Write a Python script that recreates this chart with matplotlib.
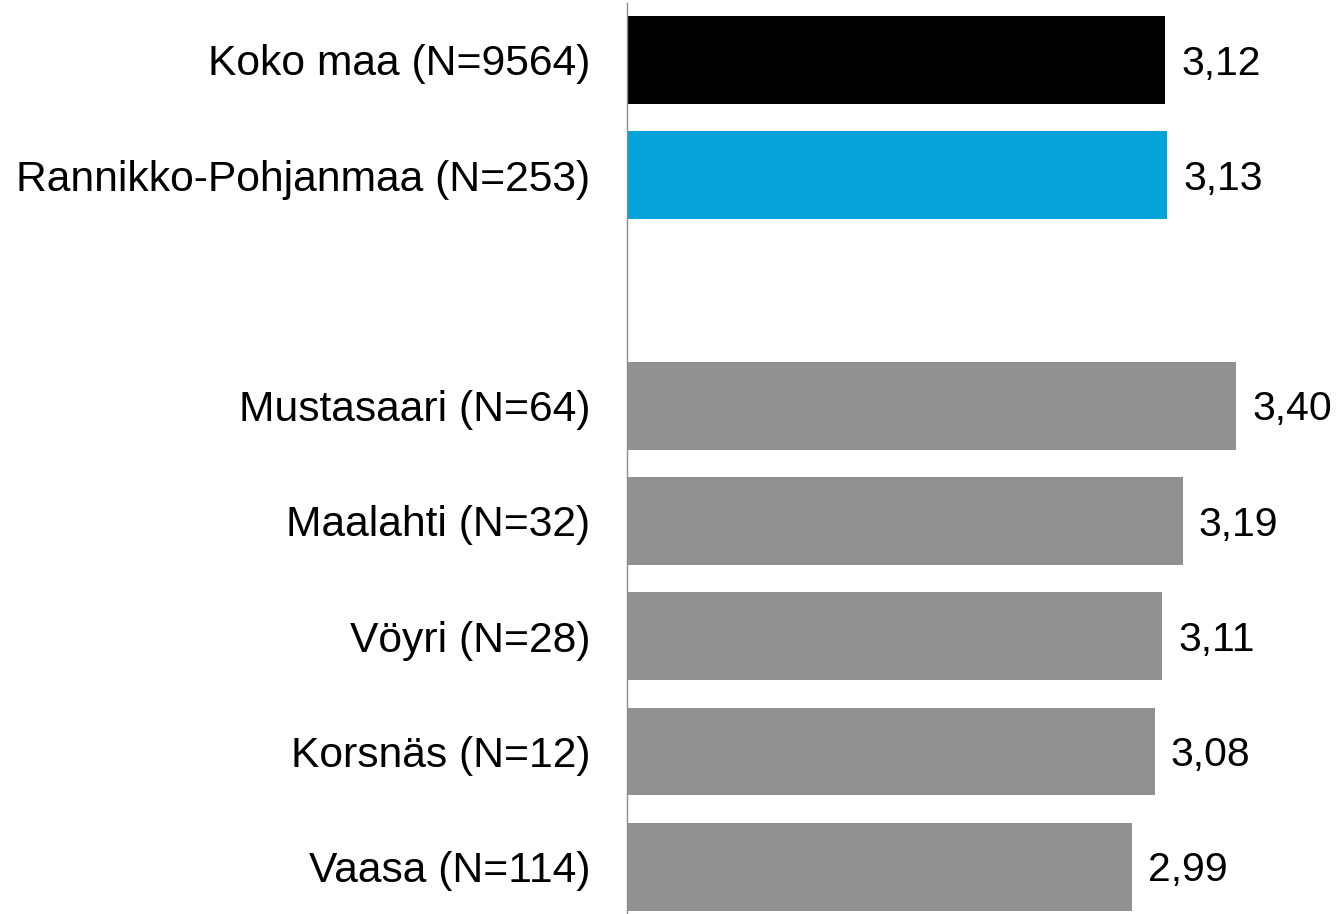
import matplotlib
matplotlib.use("Agg")
import matplotlib.pyplot as plt

categories = ["Koko maa (N=9564)", "Rannikko-Pohjanmaa (N=253)", "",
              "Mustasaari (N=64)", "Maalahti (N=32)", "Vöyri (N=28)",
              "Korsnäs (N=12)", "Vaasa (N=114)"]
values = [3.12, 3.13, None, 3.40, 3.19, 3.11, 3.08, 2.99]
colors = ["#000000", "#03A3DA", None, "#919191", "#919191", "#919191", "#919191", "#919191"]
value_labels = ["3,12", "3,13", "", "3,40", "3,19", "3,11", "3,08", "2,99"]

plt.rcParams['font.family'] = ['Liberation Sans', 'DejaVu Sans']

W, H = 1340, 914
fig = plt.figure(figsize=(W / 100, H / 100), dpi=100)
ax = fig.add_axes([627 / W, 0, 1 - 627 / W, 1 - 3 / H])

xmin = 1.0
for i, (v, c, lab) in enumerate(zip(values, colors, value_labels)):
    if v is None:
        continue
    ax.barh(i, v - xmin, left=xmin, height=0.763, color=c)
    ax.text(v + 0.064, i + 0.128, lab, va='baseline', ha='left', fontsize=29.5)

ax.set_xlim(xmin, xmin + (W - 627) / 253.7)
ax.set_ylim(7.41, -0.494)
ax.set_yticks(range(len(categories)))
ax.set_yticklabels(categories, fontsize=30.7)
ax.tick_params(axis='y', length=0, pad=26.6)
ax.set_xticks([])
for s in ['top', 'right', 'bottom']:
    ax.spines[s].set_visible(False)
ax.spines['left'].set_color('#8c8c8c')
ax.spines['left'].set_linewidth(1.0)

fig.savefig("out.png", dpi=100)
